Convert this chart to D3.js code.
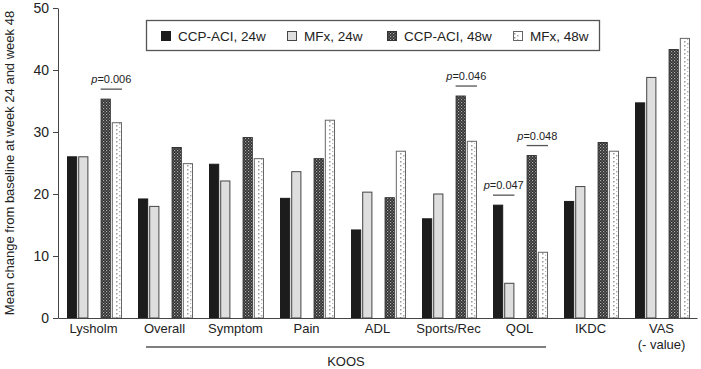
<!DOCTYPE html>
<html>
<head>
<meta charset="utf-8">
<script src="https://cdn.jsdelivr.net/npm/d3@7"></script>
<style>
body { margin: 0; background: #fff; }
svg { font-family: "Liberation Sans", Arial, sans-serif; }
</style>
</head>
<body>
<svg width="701" height="369"></svg>
<script>
let categories = ["Lysholm", "Overall", "Symptom", "Pain", "ADL", "Sports/Rec", "QOL", "IKDC", "VAS\n(- value)"];
let seriesNames = ["CCP-ACI, 24w", "MFx, 24w", "CCP-ACI, 48w", "MFx, 48w"];
let ccp24 = [26.0, 19.2, 24.8, 19.3, 14.2, 16.0, 18.2, 18.8, 34.7];
let mfx24 = [26.0, 18.0, 22.1, 23.6, 20.3, 20.0, 5.6, 21.2, 38.8];
let ccp48 = [35.3, 27.5, 29.1, 25.7, 19.4, 35.8, 26.2, 28.3, 43.3];
let mfx48 = [31.5, 24.9, 25.7, 31.9, 26.9, 28.5, 10.6, 26.9, 45.1];
let yTicks = [0, 10, 20, 30, 40, 50];
// significance marks: category, pair of series, label
let pValues = [
	{cat: 0, a: 2, b: 3, label: "0.006"},
	{cat: 5, a: 2, b: 3, label: "0.046"},
	{cat: 6, a: 0, b: 1, label: "0.047"},
	{cat: 6, a: 2, b: 3, label: "0.048"}
];

let seriesValues = [ccp24, mfx24, ccp48, mfx48];
let data = categories.map((c, i) => ({cat: c, values: seriesValues.map(s => s[i])}));

let svg = d3.select("svg");
let margin = {top: 8, right: 4, bottom: 51, left: 58};
let width = 701, height = 369;

let defs = svg.append("defs");
let pd = defs.append("pattern").attr("id", "dark").attr("patternUnits", "userSpaceOnUse")
	.attr("width", 3).attr("height", 3);
pd.append("rect").attr("width", 3).attr("height", 3).attr("fill", "#2e2e2e");
pd.append("rect").attr("x", 0).attr("y", 0).attr("width", 1.2).attr("height", 1.2).attr("fill", "#b0b0b0");
pd.append("rect").attr("x", 1.5).attr("y", 1.5).attr("width", 1.2).attr("height", 1.2).attr("fill", "#8a8a8a");

let pw = defs.append("pattern").attr("id", "dots").attr("patternUnits", "userSpaceOnUse")
	.attr("width", 8).attr("height", 8);
pw.append("rect").attr("width", 8).attr("height", 8).attr("fill", "#fff");
pw.append("rect").attr("x", 2).attr("y", 1).attr("width", 1.5).attr("height", 1.5).attr("fill", "#999");
pw.append("rect").attr("x", 5).attr("y", 3).attr("width", 1.5).attr("height", 1.5).attr("fill", "#aaa");
pw.append("rect").attr("x", 2).attr("y", 5).attr("width", 1.5).attr("height", 1.5).attr("fill", "#999");
pw.append("rect").attr("x", 5).attr("y", 7).attr("width", 1.2).attr("height", 1).attr("fill", "#bbb");

let fills = ["#1c1c1c", "#dedede", "url(#dark)", "url(#dots)"];
let strokes = ["#1c1c1c", "#444", "#333", "#666"];

let x0 = d3.scaleBand()
	.domain(categories)
	.range([margin.left, width - margin.right]);

let slots = ["s0", "s1", "gap", "s2", "s3"];
let x1 = d3.scaleBand()
	.domain(slots)
	.range([9, 64])
	.paddingInner(0.09);
let slotOf = i => slots.filter(s => s !== "gap")[i];

let y = d3.scaleLinear()
	.domain([0, 50])
	.range([height - margin.bottom, margin.top]);

// bars
svg.append("g")
	.selectAll("g").data(data).enter().append("g")
	.attr("transform", d => `translate(${x0(d.cat)},0)`)
	.selectAll("rect").data(d => d.values.map((v, i) => ({v, i}))).enter().append("rect")
	.attr("x", d => x1(slotOf(d.i)) + 0.5)
	.attr("y", d => y(d.v))
	.attr("width", x1.bandwidth() - 1)
	.attr("height", d => y(0) - y(d.v))
	.attr("fill", d => fills[d.i])
	.attr("stroke", d => strokes[d.i])
	.attr("stroke-width", 1);

// y axis
let yAxis = svg.append("g")
	.attr("transform", `translate(${margin.left},0)`)
	.call(d3.axisLeft(y).tickValues(yTicks).tickSize(5).tickSizeOuter(0).tickPadding(4));
yAxis.select(".domain").attr("stroke", "#444");
yAxis.selectAll(".tick line").attr("stroke", "#444");
yAxis.selectAll("text").attr("font-size", 14).attr("fill", "#222")
	.attr("font-family", "Liberation Sans, Arial, sans-serif");

// x axis
let xAxis = svg.append("g")
	.attr("transform", `translate(0,${height - margin.bottom})`)
	.call(d3.axisBottom(x0).tickSize(0).tickPadding(6).tickSizeOuter(0));
xAxis.select(".domain").attr("stroke", "#444").attr("stroke-width", 1.2);
xAxis.selectAll("text")
	.attr("font-size", 13).attr("fill", "#222")
	.attr("font-family", "Liberation Sans, Arial, sans-serif")
	.each(function(d) {
		let lines = d.split("\n");
		let t = d3.select(this).text(null);
		lines.forEach((l, k) => t.append("tspan").attr("x", 0).attr("dy", k ? "1.25em" : "0.71em").text(l));
	});

// KOOS bracket
let koosL = x0("Overall") + 17, koosR = x0("QOL") + x0.bandwidth() - 9;
svg.append("line")
	.attr("x1", koosL).attr("x2", koosR)
	.attr("y1", 347).attr("y2", 347)
	.attr("stroke", "#555").attr("stroke-width", 1.3);
svg.append("text")
	.attr("x", (koosL + koosR) / 2).attr("y", 366)
	.attr("text-anchor", "middle").attr("font-size", 13).attr("fill", "#222")
	.text("KOOS");

// y title
svg.append("text")
	.attr("transform", `translate(14,${(y(0) + y(50)) / 2}) rotate(-90)`)
	.attr("text-anchor", "middle").attr("font-size", 13).attr("fill", "#222")
	.text("Mean change from baseline at week 24 and week 48");

// p-values
let pg = svg.append("g").selectAll("g").data(pValues).enter().append("g");
pValues.forEach(p => {
	let cx0 = x0(categories[p.cat]);
	p.xa = cx0 + x1(slotOf(p.a));
	p.xb = cx0 + x1(slotOf(p.b)) + x1.bandwidth();
	p.top = y(Math.max(seriesValues[p.a][p.cat], seriesValues[p.b][p.cat])) - 10;
});
pg.append("line")
	.attr("x1", d => d.xa).attr("x2", d => d.xb)
	.attr("y1", d => d.top).attr("y2", d => d.top)
	.attr("stroke", "#555").attr("stroke-width", 1.3);
let pt = pg.append("text")
	.attr("x", d => (d.xa + d.xb) / 2).attr("y", d => d.top - 6)
	.attr("text-anchor", "middle").attr("font-size", 11).attr("fill", "#222");
pt.append("tspan").attr("font-style", "italic").text("p");
pt.append("tspan").text(d => "=" + d.label);

// legend
let lg = svg.append("g");
lg.append("rect")
	.attr("x", 146.5).attr("y", 20.5).attr("width", 453).attr("height", 30)
	.attr("fill", "#fff").attr("stroke", "#555").attr("stroke-width", 1.3);
let legendX = [161, 287, 387, 513];
seriesNames.forEach((n, i) => {
	lg.append("rect")
		.attr("x", legendX[i] + 0.5).attr("y", 31.5).attr("width", 9).attr("height", 9)
		.attr("fill", fills[i]).attr("stroke", strokes[i]);
	lg.append("text")
		.attr("x", legendX[i] + 17).attr("y", 41)
		.attr("font-size", 13.5).attr("fill", "#222")
		.text(n);
});
</script>
</body>
</html>
